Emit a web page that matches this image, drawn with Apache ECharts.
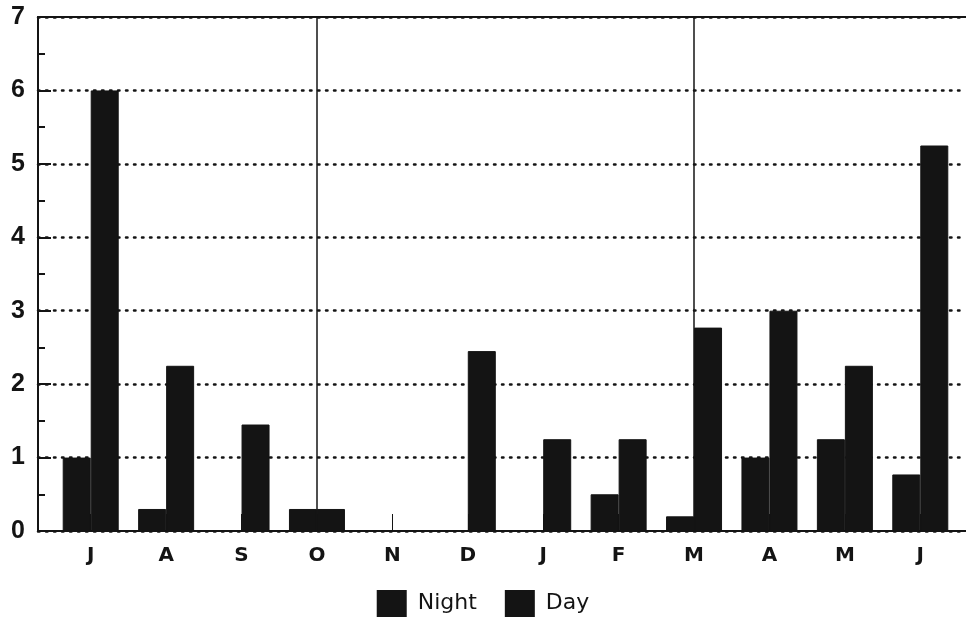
<!DOCTYPE html>
<html>
<head>
<meta charset="utf-8">
<script src="https://cdn.jsdelivr.net/npm/echarts@6/dist/echarts.min.js"></script>
<style>
  html, body { margin: 0; padding: 0; background: #fff; }
  #chart { width: 966px; height: 622px; }
</style>
</head>
<body>
<div id="chart"></div>
<script>
// Data
var months = ['J', 'A', 'S', 'O', 'N', 'D', 'J', 'F', 'M', 'A', 'M', 'J'];
var nightValues = [1.0, 0.3, 0, 0.3, 0, 0, 0, 0.5, 0.2, 1.0, 1.25, 0.77];
var dayValues   = [6.0, 2.25, 1.45, 0.3, 0, 2.45, 1.25, 1.25, 2.77, 3.0, 2.25, 5.25];
var seriesNames = ['Night', 'Day'];
var dividerIndices = [3, 8];
var yTicks = { min: 0, max: 7, interval: 1 };

var ink = '#141414';
var font = 'DejaVu Sans';

var chart = echarts.init(document.getElementById('chart'), null, { renderer: 'canvas' });
chart.setOption({
  backgroundColor: '#ffffff',
  animation: false,
  grid: [
    { left: 38, right: 0, top: 17, bottom: 91 },
    { left: 53, right: 8, top: 17, bottom: 91 }
  ],
  legend: {
    data: seriesNames,
    bottom: 0,
    left: 'center',
    icon: 'rect',
    itemWidth: 28,
    itemHeight: 25,
    itemGap: 28,
    textStyle: { fontSize: 22, color: ink, fontFamily: font, padding: [0, 0, 0, 7] }
  },
  xAxis: [
    { gridIndex: 0, type: 'value', min: 0, max: 1, position: 'bottom',
      axisLine: { show: true, lineStyle: { color: ink, width: 2 } },
      axisTick: { show: false }, axisLabel: { show: false }, splitLine: { show: false } },
    { gridIndex: 0, type: 'value', min: 0, max: 1, position: 'top',
      axisLine: { show: true, lineStyle: { color: ink, width: 2 } },
      axisTick: { show: false }, axisLabel: { show: false }, splitLine: { show: false } },
    { gridIndex: 1, type: 'category', data: months, position: 'bottom',
      axisLine: { show: false },
      axisTick: { show: true, inside: true, alignWithLabel: true, length: 17, lineStyle: { color: ink, width: 1 } },
      axisLabel: { fontSize: 20, fontWeight: 'bold', color: ink, fontFamily: font, margin: 15 },
      splitLine: { show: false } }
  ],
  yAxis: [
    { gridIndex: 0, type: 'value', min: yTicks.min, max: yTicks.max, interval: yTicks.interval,
      axisLine: { show: true, lineStyle: { color: ink, width: 2 } },
      axisTick: { show: true, inside: true, length: 13, lineStyle: { color: ink, width: 2 } },
      minorTick: { show: true, splitNumber: 2, length: 7, lineStyle: { color: ink, width: 2 } },
      axisLabel: { fontSize: 25, fontWeight: 'bold', color: ink, fontFamily: 'Liberation Sans', margin: 13 },
      splitLine: { show: true, lineStyle: { color: ink, width: 2.5, type: [1.5, 6.5], cap: 'round' } } },
    { gridIndex: 1, type: 'value', min: yTicks.min, max: yTicks.max, interval: yTicks.interval, show: false }
  ],
  series: [
    {
      name: seriesNames[0], type: 'bar', xAxisIndex: 2, yAxisIndex: 1,
      data: nightValues, barWidth: 28, barGap: '0%',
      itemStyle: { color: ink, borderColor: ink, borderWidth: 1 }
    },
    {
      name: seriesNames[1], type: 'bar', xAxisIndex: 2, yAxisIndex: 1,
      data: dayValues, barWidth: 28, barGap: '0%',
      itemStyle: { color: ink, borderColor: ink, borderWidth: 1 }
    },
    {
      name: 'dividers', type: 'line', xAxisIndex: 2, yAxisIndex: 1,
      data: [], silent: true,
      markLine: {
        silent: true, symbol: 'none', label: { show: false },
        lineStyle: { color: ink, width: 1.5, type: 'solid' },
        data: dividerIndices.map(function (i) { return { xAxis: i }; })
      }
    }
  ]
});
</script>
</body>
</html>
